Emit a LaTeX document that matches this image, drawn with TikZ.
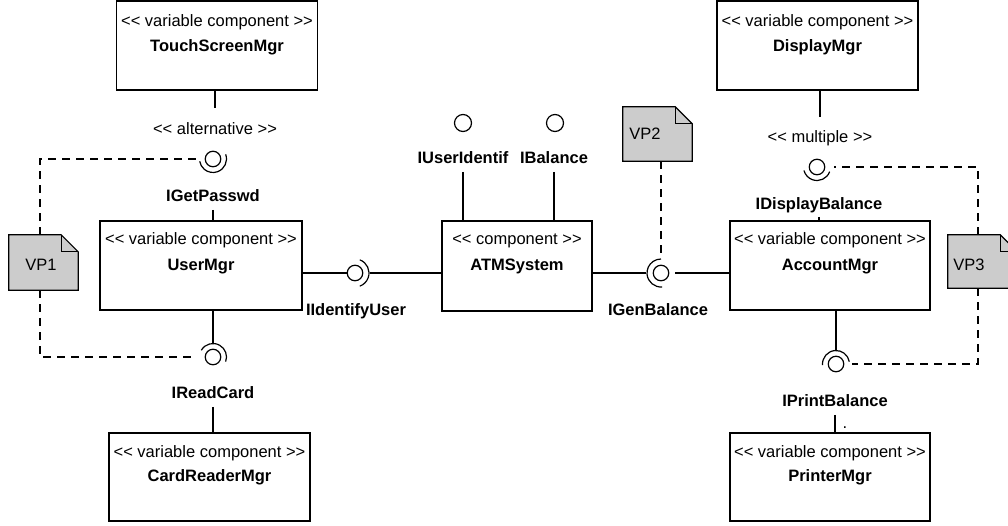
\documentclass[tikz,border=0pt]{standalone}
\usepackage{fontspec}
\setmainfont{Liberation Sans}
\newcommand\stfont{\fontsize{16.5}{19}\selectfont}
\newcommand\nmfont{\fontsize{16.5}{19}\selectfont\bfseries}
\definecolor{notegray}{HTML}{CCCCCC}
\begin{document}
\begin{tikzpicture}[x=1pt,y=-1pt,
  comp/.style={draw, line width=1.3pt, inner sep=0pt},
  ball/.style={draw, circle, line width=1.2pt, inner sep=0pt, minimum size=15.5pt},
  topball/.style={ball, minimum size=17pt},
  wire/.style={line width=1.2pt},
  vpline/.style={line width=1.1pt, dash pattern=on 8pt off 6pt},
  txt/.style={inner sep=0pt, text height=14pt, text depth=1.5pt, font=\stfont},
  iname/.style={txt, font=\nmfont},
  notebox/.style={inner sep=0pt},
  notebody/.style={draw, fill=notegray, line width=1.2pt, line join=miter},
]
\useasboundingbox (0,0) rectangle (1008,525);
\clip (0,0) rectangle (1008,525);

% ---------- components ----------
\node[comp, minimum width=201pt, minimum height=89pt] (ts)  at (217,45.5)  {};
\node[comp, minimum width=201pt, minimum height=89pt] (dm)  at (817.5,45.5) {};
\node[comp, minimum width=202pt, minimum height=89pt] (um)  at (201,265.5) {};
\node[comp, minimum width=150pt, minimum height=90pt] (atm) at (517,266)   {};
\node[comp, minimum width=200pt, minimum height=89pt] (am)  at (830,265.5) {};
\node[comp, minimum width=201pt, minimum height=88pt] (cr)  at (209.5,477) {};
\node[comp, minimum width=200pt, minimum height=88pt] (pm)  at (830,477)   {};

\node[txt]   (ts-st)  at (217,20)   {<{}< variable component >{}>};
\node[iname] (ts-nm)  at (217,45)   {TouchScreenMgr};
\node[txt]   (dm-st)  at (817.5,20) {<{}< variable component >{}>};
\node[iname] (dm-nm)  at (817.5,45) {DisplayMgr};
\node[txt]   (um-st)  at (201,238)  {<{}< variable component >{}>};
\node[iname] (um-nm)  at (201,264)  {UserMgr};
\node[txt]   (atm-st) at (517,238)  {<{}< component >{}>};
\node[iname] (atm-nm) at (517,264)  {ATMSystem};
\node[txt]   (am-st)  at (830,238)  {<{}< variable component >{}>};
\node[iname] (am-nm)  at (830,264)  {AccountMgr};
\node[txt]   (cr-st)  at (209.5,451) {<{}< variable component >{}>};
\node[iname] (cr-nm)  at (209.5,475) {CardReaderMgr};
\node[txt]   (pm-st)  at (830,451)  {<{}< variable component >{}>};
\node[iname] (pm-nm)  at (830,475)  {PrinterMgr};

% ---------- interfaces ----------
\node[ball]    (igp)  at (213,159) {};
\node[ball]    (irc)  at (213,357) {};
\node[ball]    (iid)  at (355,273) {};
\node[ball]    (igb)  at (661,273) {};
\node[ball]    (idb)  at (817,167) {};
\node[ball]    (ipb)  at (836,364) {};
\node[topball] (iui)  at (463,123) {};
\node[topball] (ibal) at (555,123) {};

% sockets (canvas angles)
\draw[wire] (igp.center) ++(20:13.5pt)   arc[start angle=20,  end angle=-170, radius=13.5pt];
\draw[wire] (irc.center) ++(150:13.5pt)  arc[start angle=150, end angle=-20,  radius=13.5pt];
\draw[wire] (iid.center) ++(70:14pt)     arc[start angle=70,  end angle=-70,  radius=14pt];
\draw[wire] (igb.center) ++(-85:14pt)    arc[start angle=-85, end angle=-270, radius=14pt];
\draw[wire] (idb.center) ++(-20:13.5pt)  arc[start angle=-20, end angle=-165, radius=13.5pt];
\draw[wire] (ipb.center) ++(-175:13.5pt) arc[start angle=-175,end angle=-350, radius=13.5pt];

% interface names and stereotypes
\node[txt]   (alt)   at (215,128) {<{}< alternative >{}>};
\node[txt]   (mult)  at (820,136) {<{}< multiple >{}>};
\node[iname] (igpl)  at (213,195) {IGetPasswd};
\node[iname] (ircl)  at (213,392) {IReadCard};
\node[iname] (iidl)  at (356,309) {IIdentifyUser};
\node[iname] (igbl)  at (658,309) {IGenBalance};
\node[iname] (idbl)  at (819,203) {IDisplayBalance};
\node[iname] (ipbl)  at (835,400) {IPrintBalance};
\node[iname] (iuil)  at (463,157) {IUserIdentif};
\node[iname] (iball) at (554,157) {IBalance};
\node[txt]   (dotmark) at (845,422.5) {.};

% ---------- connectors ----------
\draw[wire] (ts.south -| alt) -- ([yshift=12pt]alt.north);
\draw[wire] ([yshift=-7pt]igpl.south) -- (um.north -| igpl);
\draw[wire] (um.south -| irc) -- ([yshift=13pt]irc.center);
\draw[wire] ([yshift=-7pt]ircl.south) -- (cr.north -| ircl);
\draw[wire] (um.east |- iid) -- (iid.west);
\draw[wire] ([xshift=14.5pt]iid.center) -- (atm.west |- iid);
\draw[wire] (atm.east |- igb) -- ([xshift=-15pt]igb.center);
\draw[wire] ([xshift=14pt]igb.center) -- (am.west |- igb);
\draw[wire] ([yshift=-7pt]iuil.south) -- (atm.north -| iuil);
\draw[wire] ([yshift=-7pt]iball.south) -- (atm.north -| iball);
\draw[wire] (dm.south -| mult) -- ([yshift=11pt]mult.north);
\draw[wire] ([yshift=-6pt]idbl.south) -- (am.north -| idbl);
\draw[wire] (am.south -| ipb) -- ([yshift=13pt]ipb.center);
\draw[wire] ([yshift=-7pt]ipbl.south) -- (pm.north -| ipbl);

% ---------- variation points ----------
\node[notebox, minimum width=69pt, minimum height=55pt] (vp1) at (43.5,262.5) {};
\node[notebox, minimum width=69pt, minimum height=54pt] (vp2) at (657.5,134)  {};
\node[notebox, minimum width=69pt, minimum height=53pt] (vp3) at (982.5,261.5) {};
\foreach \n in {vp1,vp2,vp3}{
  \draw[notebody] (\n.south west) -- (\n.north west) -- ([xshift=-17pt]\n.north east)
    -- ([yshift=-17pt]\n.north east) -- (\n.south east) -- cycle;
  \draw[line width=1.2pt] ([xshift=-17pt]\n.north east) |- ([yshift=-17pt]\n.north east);
}
\node[txt] (vp1t) at (41,264)  {VP1};
\node[txt] (vp2t) at (645,133) {VP2};
\node[txt] (vp3t) at (969,264) {VP3};

\draw[vpline] ([xshift=-3.5pt]vp1.north) |- ([xshift=-15pt]igp.center);
\draw[vpline] ([xshift=-3.5pt]vp1.south) |- ([xshift=-17pt]irc.center);
\draw[vpline] (vp2.south -| igb) -- ([yshift=16pt]igb.center);
\draw[vpline] ([xshift=-4.5pt]vp3.north) |- ([xshift=17pt]idb.center);
\draw[vpline] ([xshift=-4.5pt]vp3.south) |- ([xshift=16pt]ipb.center);
\end{tikzpicture}
\end{document}
